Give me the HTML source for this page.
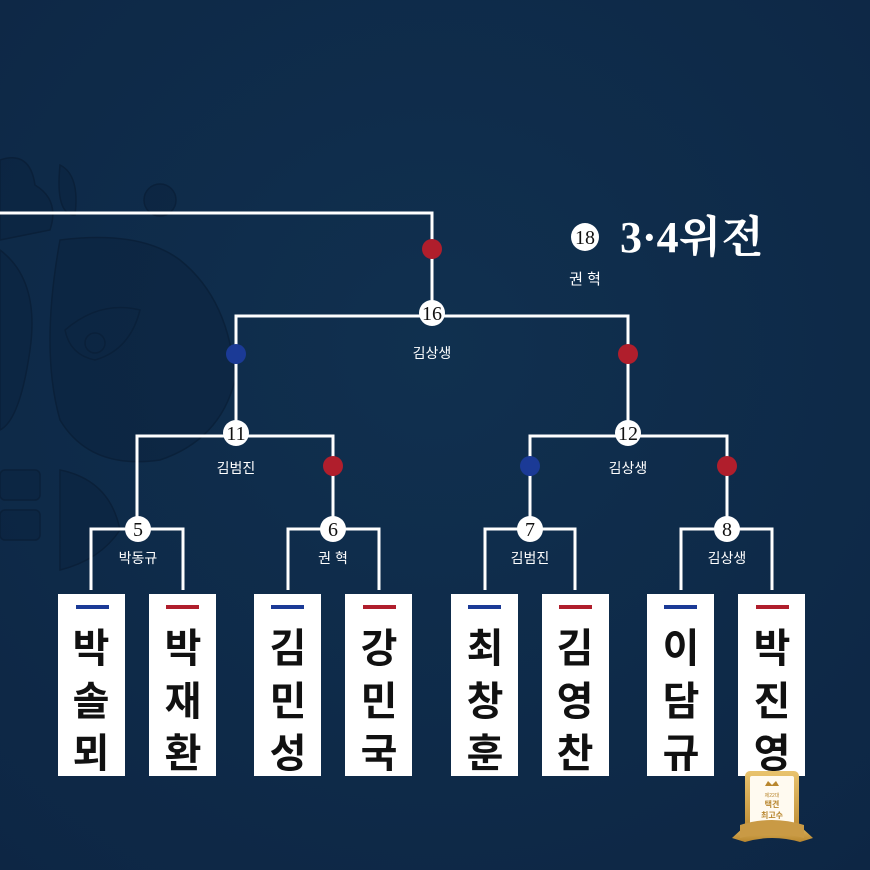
<!DOCTYPE html>
<html><head><meta charset="utf-8"><style>
html,body{margin:0;padding:0;background:#0f2a48;}
svg{display:block}
</style></head><body>
<svg width="870" height="870" viewBox="0 0 870 870" xmlns="http://www.w3.org/2000/svg" font-family="'Liberation Sans','Noto Sans CJK KR',sans-serif">
<defs>
<radialGradient id="bg" cx="0.5" cy="0.4" r="0.8"><stop offset="0" stop-color="#10304f"/><stop offset="1" stop-color="#0d2644"/></radialGradient>
<linearGradient id="gold" x1="0" y1="0" x2="0" y2="1"><stop offset="0" stop-color="#e9c36e"/><stop offset="1" stop-color="#b8862e"/></linearGradient>
</defs>
<rect width="870" height="870" fill="url(#bg)"/>
<!-- decorative pattern -->
<g fill="#0c2440" stroke="#081a30" stroke-width="1.5" opacity="0.6">
<path d="M0 160 Q30 150 35 185 Q60 200 50 230 L0 240 Z"/>
<path d="M60 165 Q80 175 75 215 Q55 215 60 165 Z"/>
<circle cx="160" cy="200" r="16"/>
<path d="M60 240 Q140 230 180 260 Q230 300 235 380 Q220 440 160 460 Q90 470 60 420 Q40 350 60 240 Z"/>
<path d="M0 250 Q40 280 30 350 Q20 420 0 430 Z"/>
<path d="M60 470 Q110 480 120 530 Q100 560 60 570 Z"/>
<rect x="0" y="470" width="40" height="30" rx="5"/>
<rect x="0" y="510" width="40" height="30" rx="5"/>
<path d="M65 330 Q100 300 140 310 Q130 350 95 360 Q70 355 65 330 Z"/>
<circle cx="95" cy="343" r="10"/>
</g>
<!-- lines -->
<g stroke="#fff" stroke-width="3" fill="none">
<path d="M0 213 H432 V313"/>
<path d="M236 433 V316 H628 V433"/>
<path d="M137 528 V436 H333 V528"/>
<path d="M530 528 V436 H727 V528"/>
<path d="M91 590 V529 H183 V590"/>
<path d="M288 590 V529 H379 V590"/>
<path d="M485 590 V529 H575 V590"/>
<path d="M681 590 V529 H772 V590"/>
</g>
<!-- dots -->
<circle cx="432" cy="249" r="10" fill="#b01e2c"/>
<circle cx="236" cy="354" r="10" fill="#1b3a96"/>
<circle cx="628" cy="354" r="10" fill="#b01e2c"/>
<circle cx="333" cy="466" r="10" fill="#b01e2c"/>
<circle cx="530" cy="466" r="10" fill="#1b3a96"/>
<circle cx="727" cy="466" r="10" fill="#b01e2c"/>
<!-- number nodes -->
<g font-family="'Liberation Serif',serif" font-size="20" text-anchor="middle" fill="#111">
<circle cx="432" cy="313" r="13" fill="#fff"/><text x="432" y="320">16</text>
<circle cx="236" cy="433" r="13" fill="#fff"/><text x="236" y="440">11</text>
<circle cx="628" cy="433" r="13" fill="#fff"/><text x="628" y="440">12</text>
<circle cx="138" cy="529" r="13" fill="#fff"/><text x="138" y="536">5</text>
<circle cx="333" cy="529" r="13" fill="#fff"/><text x="333" y="536">6</text>
<circle cx="530" cy="529" r="13" fill="#fff"/><text x="530" y="536">7</text>
<circle cx="727" cy="529" r="13" fill="#fff"/><text x="727" y="536">8</text>
<circle cx="585" cy="237" r="14" fill="#fff"/><text x="585" y="244" font-size="20">18</text>
</g>
<!-- labels -->
<g fill="#fff" font-size="14" text-anchor="middle">
<text x="432" y="358">김상생</text>
<text x="236" y="473">김범진</text>
<text x="628" y="473">김상생</text>
<text x="138" y="563">박동규</text>
<text x="333" y="563">권 혁</text>
<text x="530" y="563">김범진</text>
<text x="727" y="563">김상생</text>
<text x="585" y="284" font-size="15">권 혁</text>
</g>
<text x="620" y="252" fill="#fff" font-size="44" font-weight="bold" font-family="'Liberation Serif','Noto Serif CJK SC',serif">3·4위전</text>
<!-- name boxes -->
<g font-size="40" font-weight="bold" text-anchor="middle" fill="#111" font-family="'Liberation Sans','Noto Sans CJK KR',sans-serif">
<rect x="58" y="594" width="67" height="182" fill="#fff"/><rect x="76" y="605" width="33" height="4" fill="#1b3a96"/>
<text x="91" y="662">박</text><text x="91" y="715">솔</text><text x="91" y="767">뫼</text>
<rect x="149" y="594" width="67" height="182" fill="#fff"/><rect x="166" y="605" width="33" height="4" fill="#b01e2c"/>
<text x="183" y="662">박</text><text x="183" y="715">재</text><text x="183" y="767">환</text>
<rect x="254" y="594" width="67" height="182" fill="#fff"/><rect x="271" y="605" width="33" height="4" fill="#1b3a96"/>
<text x="288" y="662">김</text><text x="288" y="715">민</text><text x="288" y="767">성</text>
<rect x="345" y="594" width="67" height="182" fill="#fff"/><rect x="363" y="605" width="33" height="4" fill="#b01e2c"/>
<text x="379" y="662">강</text><text x="379" y="715">민</text><text x="379" y="767">국</text>
<rect x="451" y="594" width="67" height="182" fill="#fff"/><rect x="468" y="605" width="33" height="4" fill="#1b3a96"/>
<text x="485" y="662">최</text><text x="485" y="715">창</text><text x="485" y="767">훈</text>
<rect x="542" y="594" width="67" height="182" fill="#fff"/><rect x="559" y="605" width="33" height="4" fill="#b01e2c"/>
<text x="575" y="662">김</text><text x="575" y="715">영</text><text x="575" y="767">찬</text>
<rect x="647" y="594" width="67" height="182" fill="#fff"/><rect x="664" y="605" width="33" height="4" fill="#1b3a96"/>
<text x="681" y="662">이</text><text x="681" y="715">담</text><text x="681" y="767">규</text>
<rect x="738" y="594" width="67" height="182" fill="#fff"/><rect x="756" y="605" width="33" height="4" fill="#b01e2c"/>
<text x="772" y="662">박</text><text x="772" y="715">진</text><text x="772" y="767">영</text>
</g>
<!-- badge -->
<g>
<rect x="745" y="771" width="54" height="66" rx="5" fill="url(#gold)"/>
<rect x="750" y="776" width="44" height="56" rx="2" fill="#fffaf0"/>
<path d="M732 838 L745 826 Q772 818 800 826 L813 838 L800 842 Q772 834 745 842 Z" fill="url(#gold)"/>
<path d="M740 825 Q772 815 804 825 L804 838 Q772 830 740 838 Z" fill="#c99a45"/>
<g fill="#b8862e" font-size="8" text-anchor="middle" font-weight="bold">
<path d="M765 786 L768 781 L772 785 L776 781 L779 786 Z"/>
<text x="772" y="797" font-size="5" font-weight="normal">제22대</text>
<text x="772" y="807">택견</text>
<text x="772" y="818">최고수</text>
</g>
</g>
</svg>
</body></html>
